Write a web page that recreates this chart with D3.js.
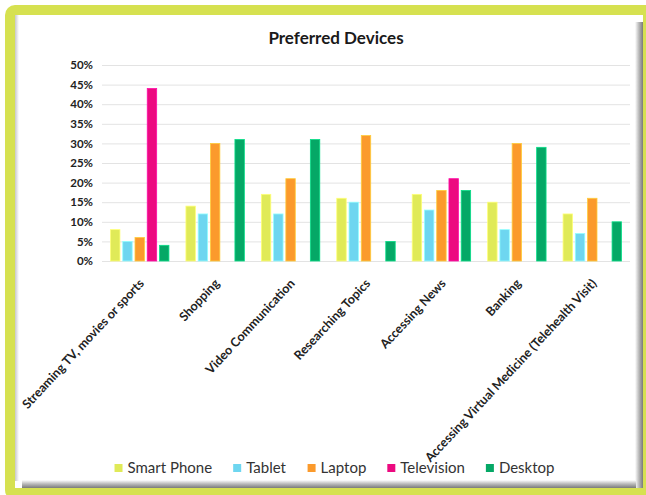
<!DOCTYPE html>
<html>
<head>
<meta charset="utf-8">
<script src="https://cdn.jsdelivr.net/npm/d3@7/dist/d3.min.js"></script>
<style>
  html, body { margin: 0; padding: 0; background: #ffffff; }
  svg { display: block; font-family: Lato, "Open Sans", sans-serif; }
</style>
</head>
<body>
<svg id="chart" width="646" height="495"></svg>
<script>
// Survey categories and share of respondents preferring each device
const categories = [
  "Streaming TV, movies or sports",
  "Shopping",
  "Video Communication",
  "Researching Topics",
  "Accessing News",
  "Banking",
  "Accessing Virtual Medicine (Telehealth Visit)"
];
const devices = ["Smart Phone", "Tablet", "Laptop", "Television", "Desktop"];
const smartPhone = [8, 14, 17, 16, 17, 15, 12];
const tablet     = [5, 12, 12, 15, 13, 8, 7];
const laptop     = [6, 30, 21, 32, 18, 30, 16];
const television = [44, 0, 0, 0, 21, 0, 0];
const desktop    = [4, 31, 31, 5, 18, 29, 10];
const yTicks = [0, 5, 10, 15, 20, 25, 30, 35, 40, 45, 50];
const deviceColors = ["#e0ea58", "#6ed6f0", "#fb9a2c", "#ec0a80", "#05a866"];

const seriesValues = [smartPhone, tablet, laptop, television, desktop];
const rows = categories.map((c, i) => ({
  category: c,
  values: devices.map((d, j) => ({ device: d, value: seriesValues[j][i] }))
}));

const svg = d3.select("#chart");
const W = 646, H = 495;

// Frame: rounded lime border with a bevelled white panel inside
const defs = svg.append("defs");
const gR = defs.append("linearGradient").attr("id", "shadeRight")
  .attr("x1", "0").attr("x2", "1").attr("y1", "0").attr("y2", "0");
gR.append("stop").attr("offset", "0").attr("stop-color", "#ffffff");
gR.append("stop").attr("offset", "0.5").attr("stop-color", "#b8b8b8");
gR.append("stop").attr("offset", "1").attr("stop-color", "#7a7a7a");
const gB = defs.append("linearGradient").attr("id", "shadeBottom")
  .attr("x1", "0").attr("x2", "0").attr("y1", "0").attr("y2", "1");
gB.append("stop").attr("offset", "0").attr("stop-color", "#ffffff");
gB.append("stop").attr("offset", "0.5").attr("stop-color", "#b8b8b8");
gB.append("stop").attr("offset", "1").attr("stop-color", "#7a7a7a");
const gL = defs.append("linearGradient").attr("id", "shadeLeft")
  .attr("x1", "0").attr("x2", "1").attr("y1", "0").attr("y2", "0");
gL.append("stop").attr("offset", "0").attr("stop-color", "#c8c8c8");
gL.append("stop").attr("offset", "1").attr("stop-color", "#ffffff");

svg.append("rect").attr("x", 0).attr("y", 0).attr("width", W).attr("height", H).attr("fill", "#ffffff");
svg.append("rect").attr("x", 5).attr("y", 5).attr("width", W + 10).attr("height", H)
  .attr("rx", 10).attr("fill", "#d6e150");
svg.append("rect").attr("x", 15).attr("y", 15).attr("width", 628).attr("height", 473).attr("fill", "#ffffff");
svg.append("rect").attr("x", 15).attr("y", 15).attr("width", 4).attr("height", 466).attr("fill", "url(#shadeLeft)");
svg.append("rect").attr("x", 635).attr("y", 22).attr("width", 8).attr("height", 466).attr("fill", "url(#shadeRight)");
svg.append("rect").attr("x", 22).attr("y", 480).attr("width", 614).attr("height", 8).attr("fill", "url(#shadeBottom)");

// Title
svg.append("text").attr("x", 336).attr("y", 44)
  .attr("text-anchor", "middle").attr("font-size", 17).attr("font-weight", "bold")
  .attr("fill", "#1a1a1a").text("Preferred Devices");

// Scales
const plot = { left: 102, right: 630, top: 65, bottom: 261 };
const x0 = d3.scaleBand().domain(categories).range([plot.left, plot.right]).padding(0);
const x1 = d3.scaleBand().domain(devices).range([8.5, x0.bandwidth() - 8.5]).paddingInner(0.23);
const y = d3.scaleLinear().domain([0, 50]).range([plot.bottom, plot.top]);

// Gridlines and y axis labels
const yAxis = d3.axisLeft(y).tickValues(yTicks).tickFormat(d => d + "%")
  .tickSize(-(plot.right - plot.left)).tickPadding(9);
const gy = svg.append("g").attr("transform", `translate(${plot.left},0)`).call(yAxis);
gy.select(".domain").remove();
gy.selectAll(".tick line").attr("stroke", "#e3e3e3").attr("stroke-width", 1);
gy.selectAll(".tick text").attr("font-size", 11.5).attr("font-weight", "bold")
  .attr("fill", "#222").attr("font-family", "Lato, sans-serif");

// Bars
const groups = svg.append("g").selectAll("g").data(rows).join("g")
  .attr("transform", d => `translate(${x0(d.category)},0)`);
groups.selectAll("rect").data(d => d.values.filter(v => v.value > 0)).join("rect")
  .attr("x", d => x1(d.device))
  .attr("y", d => y(d.value))
  .attr("width", x1.bandwidth())
  .attr("height", d => y(0) - y(d.value))
  .attr("fill", d => deviceColors[devices.indexOf(d.device)])
  .attr("stroke", d => d3.color(deviceColors[devices.indexOf(d.device)]).brighter(0.8))
  .attr("stroke-width", 0.8);

// Category labels, rotated
const xAxis = d3.axisBottom(x0).tickSize(0).tickPadding(0);
const gx = svg.append("g").attr("transform", `translate(0,${plot.bottom})`).call(xAxis);
gx.select(".domain").remove();
gx.selectAll(".tick text")
  .attr("font-size", 12.5).attr("font-weight", "bold").attr("fill", "#222")
  .attr("font-family", "Lato, sans-serif")
  .attr("text-anchor", "end")
  .attr("dy", "0")
  .attr("transform", "translate(5,23) rotate(-47)");

// Legend
const legend = svg.append("g").attr("transform", "translate(0,468)");
const items = legend.selectAll("g").data(devices).join("g");
items.append("rect").attr("width", 8).attr("height", 8).attr("y", -4)
  .attr("fill", (d, i) => deviceColors[i]);
items.append("text").attr("x", 13).attr("dy", "0.35em")
  .attr("font-size", 15).attr("fill", "#333").text(d => d);
let cx = 0;
const offsets = [];
items.each(function () {
  offsets.push(cx);
  cx += this.getBBox().width + 21;
});
const total = cx - 21;
const startX = 334.5 - total / 2;
items.attr("transform", (d, i) => `translate(${startX + offsets[i]},0)`);
</script>
</body>
</html>
